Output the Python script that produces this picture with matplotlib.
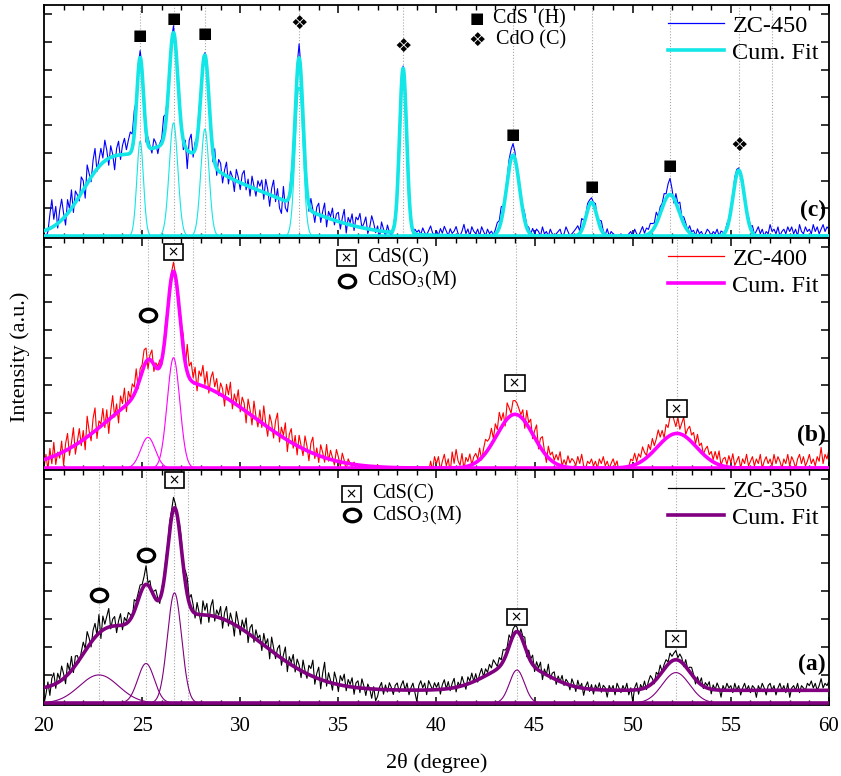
import numpy as np
import matplotlib as mpl
mpl.use("Agg")
import matplotlib.pyplot as plt
from matplotlib.lines import Line2D
from matplotlib.markers import MarkerStyle
from matplotlib.transforms import Affine2D
from matplotlib.ticker import MultipleLocator

# ── scan grid (measured points every 0.1 deg) and fine grid for fits ──
TWO_THETA = np.linspace(20, 60, 401)
FINE = np.linspace(20, 60, 2001)

# ── ZC-450 (panel c): visible peaks, hidden background, raw residual ──
C_PEAK_POS = [24.9, 26.6, 28.2, 33.0, 38.3, 43.9, 47.9, 51.9, 55.4]
C_PEAK_HT = [41.0, 49.0, 46.4, 64.5, 71.5, 35.0, 14.6, 18.0, 28.5]
C_PEAK_W = [0.17, 0.22, 0.21, 0.20, 0.18, 0.33, 0.27, 0.45, 0.29]
C_BG_POS = [23.0, 26.0, 29.0]
C_BG_HT = [20.0, 22.0, 22.0]
C_BG_W = [1.2, 1.8, 3.8]
C_OFFSET = 0.0
C_RES = [
    -2, -3, -1, 6, 12, 3, 8, -2, 5, 9,
    2, -4, 6, 1, 8, -3, 5, 2, -2, 7,
    4, -5, 8, 3, -2, 6, 10, -1, 3, 7,
    2, 9, 4, -3, 5, 1, -6, 3, 6, -2,
    4, 7, 2, 6, 9, 6, 10, 2, 3, 3,
    2, -3, -5, 3, 1, -2, 4, 2, -3, 1,
    2, 9, 4, 3, 2, 2, 3, -2, 1, -3,
    2, -4, 3, -8, 5, 8, -2, 3, 1, 4,
    2, 3, 1, 2, -1, 3, -5, 6, -3, 5,
    4, -4, 2, 6, -3, 3, 1, -5, 5, 2,
    -3, 4, 6, -2, 3, -4, 5, 1, -3, 4,
    2, 5, -3, 6, 2, -5, 3, 7, -2, 4,
    -4, -6, 6, -3, -5, 1, 4, 2, 3, 4,
    6, 3, -2, 4, 2, -3, 5, 1, -4, 3,
    5, -3, 2, 6, -4, 3, 1, 5, -2, 3,
    4, -3, 2, 6, -4, 3, 1, 5, -2, 4,
    3, 6, 0, 2, 5, -2, 1, 6, 3, -1,
    2, -3, 4, 1, -2, 3, 0, -2, 1, 2,
    0, 2, 3, 1, -3, -2, 0, 1, -1, 2,
    1, 2, 0, 3, 1, 0, 2, 4, 1, 0,
    2, 0, 3, 1, 4, 2, 0, 3, 1, 2,
    4, 1, 0, 2, 5, 1, 3, 0, 4, 2,
    1, 3, 0, 4, 2, 0, 3, 1, 2, 0,
    2, 4, 3, 6, 2, 1, 2, 4, 4, 5,
    3, -2, 2, -1, 2, 3, 1, 2, 0, 3,
    1, 3, 2, 0, 4, 1, 2, 0, 3, 1,
    0, 1, 2, 3, 0, 1, 4, 2, 0, 1,
    2, 3, 4, 1, 5, 2, 1, 3, 2, 2,
    1, 3, -1, 2, 4, 1, 0, 3, 0, 2,
    1, 0, 0, 0, 1, 0, 0, 0, 1, 2,
    0, 3, 1, 0, 2, 4, 1, 3, 2, 4,
    3, 2, 5, 1, 3, 2, 4, 2, 5, 7,
    3, -2, 4, 2, 5, 1, 3, 2, 0, 3,
    1, 2, 0, 3, 1, 2, 0, 1, 3, 2,
    0, 2, 1, 3, 0, 2, 1, 0, 2, 1,
    2, 1, 3, 2, 1, -1, 2, 1, 0, 2,
    1, 3, 0, 2, 4, 1, 3, 0, 2, 1,
    5, 2, 3, 1, 4, 0, 2, 3, 1, 4,
    2, 4, 1, 3, 0, 5, 2, 1, 4, 2,
    3, 1, 5, 2, 4, 1, 3, 5, 2, 4,
    3,
]
C_GUIDES = [24.9, 26.6, 28.2, 33.0, 38.3, 43.9, 47.9, 51.9, 55.4, 57.1]
C_SQUARES = [(24.9, 86.7), (26.6, 94.3), (28.2, 87.6),
             (43.9, 43.9), (47.9, 21.3), (51.9, 30.6)]
C_DIAMONDS = [(33.0, 92.1), (38.3, 82.1), (55.4, 39.2)]

# ── ZC-400 (panel b) ──
B_PEAK_POS = [25.3, 26.6, 44.0, 52.25]
B_PEAK_HT = [13.4, 48.0, 23.4, 15.1]
B_PEAK_W = [0.37, 0.32, 0.94, 1.0]
B_BG_POS = [25.5, 29.0]
B_BG_HT = [24.0, 21.0]
B_BG_W = [2.8, 3.0]
B_OFFSET = 0.0
B_RES = [
    -4, 2, -5, 4, -3, 6, -4, 1, -2, 5,
    -6, 3, 7, -3, 2, 8, -4, 1, 6, -2,
    4, -5, 9, 2, -3, 6, 10, -4, 3, 1,
    7, -2, 5, -6, 3, 9, -1, 4, -5, 6,
    2, 8, -3, 5, 1, 6, 3, 9, -2, 4,
    3, 7, 6, -4, 2, 5, -3, 2, 1, 3,
    -2, 2, 4, 1, 3, 2, 4, 1, -2, 2,
    3, 6, -2, 12, 5, 8, 2, 7, -3, 6,
    4, 9, 1, 7, -2, 5, 8, 2, 6, -1,
    5, 3, -4, 6, 2, 8, -3, 4, 1, 7,
    -2, 5, 3, -5, 6, 2, -4, 7, 1, -3,
    5, -2, 8, 1, -4, 6, 3, -3, 5, 9,
    -3, 4, 1, 7, -5, 3, 6, -2, 4, -4,
    5, 1, -3, 6, 2, -4, 4, 7, -2, 3,
    -3, 5, 2, -2, 6, -1, 4, 1, -2, 5,
    2, -2, 4, 1, -3, 2, 0, -1, 1, -1,
    -2, -2, -2, -2, -2, -2, -2, -2, -2, -2,
    1, -2, -2, -2, -2, -2, -2, -2, -2, -2,
    -2, -2, -2, -2, -2, -2, -2, -2, -2, -2,
    -2, -2, -2, -2, -2, -2, -2, 3, -1, 5,
    2, 5, -1, 3, 6, 1, 4, -2, 7, 2,
    8, 3, 1, 6, -1, 4, 2, 5, 0, 3,
    4, 1, 5, -1, 3, 6, 4, 4, 7, 1,
    6, 2, 8, 3, 5, -2, 7, 4, 1, 6,
    6, 5, 3, 1, 4, -3, 6, 2, 5, -2,
    3, 7, -2, 4, 6, 1, -3, 5, 2, 4,
    1, 4, 2, 6, 0, 3, 1, 5, 2, 4,
    3, 1, 5, 2, 6, 1, 0, 3, 2, 4,
    1, 3, 0, 4, 2, 5, 1, 3, 0, 2,
    4, 1, 3, -2, -2, -2, -2, -2, 0, 3,
    2, 5, 1, 4, 2, 6, 3, 1, 5, 2,
    6, 2, 4, 7, 3, 5, 1, 6, 4, 8,
    10, 6, 3, 7, 2, 5, 8, 1, 4, 6,
    3, 5, 1, 6, 2, 4, 0, 3, 5, 2,
    4, 1, 5, 2, 6, 0, 3, 4, 1, 5,
    2, 6, 1, 3, 5, 0, 4, 2, 6, 1,
    3, 5, 1, 4, 2, 6, 0, 3, 5, 2,
    4, 1, 6, 2, 5, 3, 0, 4, 2, 6,
    1, 5, 3, 0, 4, 6, 2, 5, 1, 3,
    6, 2, 4, 1, 5, 3, 9, 2, 6, 4,
    8,
]
B_GUIDES = [25.3, 26.6, 27.6, 44.05, 52.25]
B_BOXES = [(26.6, 93.8), (44.0, 36.9), (52.25, 25.9)]
B_CIRCLES = [(25.3, 66.4)]

# ── ZC-350 (panel a) ──
A_PEAK_POS = [22.8, 25.2, 26.65, 44.1, 52.2]
A_PEAK_HT = [12.1, 17.0, 47.3, 14.2, 13.1]
A_PEAK_W = [1.0, 0.42, 0.36, 0.38, 0.7]
A_BG_POS = [24.3, 28.2, 44.1]
A_BG_HT = [10.0, 32.0, 11.0]
A_BG_W = [1.5, 3.0, 1.5]
A_OFFSET = 5.5
A_RES = [
    -7, -3, 2, -4, 3, 5, -2, 4, 1, 6,
    2, -3, 5, 1, 6, -2, 4, 3, -1, 2,
    5, 1, 7, 3, -2, 4, 6, 0, 8, -3,
    6, 2, 5, 8, -1, 3, 4, -3, 2, 5,
    -2, 3, 1, 4, 2, -1, 5, 2, 3, 4,
    2, 4, 8, 1, 3, -1, 2, 4, 1, -2,
    2, 1, 3, 2, 4, 3, 5, 2, -1, 3,
    4, -3, 5, 7, 2, 6, 3, -2, 5, 1,
    -4, 6, 2, 5, -3, 4, 7, -2, 3, 1,
    5, -4, 3, 6, -2, 4, 1, -5, 6, 2,
    -3, 4, 1, 6, -4, 3, 5, -2, 4, 1,
    3, -3, 5, 1, 4, -4, 6, 2, -2, 3,
    5, -3, 2, 6, -4, 3, 1, 5, -2, 4,
    2, -3, 5, 1, -2, 4, 3, 7, -3, 2,
    5, -4, 3, 8, -2, 4, 1, -3, 5, 2,
    -3, 4, 2, 5, -2, 3, 1, 4, -3, 2,
    3, -2, 4, 1, -3, 2, 0, -4, 1, -5,
    -3, 1, 3, -2, 2, -1, 3, 1, -2, 2,
    3, -1, 2, 4, 0, 3, -2, 1, 3, -1,
    -5, 2, 4, 1, 3, -2, 4, 2, 0, 3,
    1, 3, -2, 2, 4, 0, 3, -1, 2, 4,
    -2, 2, 0, 4, 1, -2, 3, 1, 4, 0,
    3, -1, 2, 4, 0, 3, 1, 4, 2, 5,
    3, 1, 4, 2, 5, 3, 2, 5, 1, 3,
    3, 2, -1, 3, 2, 4, -2, 3, 1, 4,
    -2, 3, 1, 4, -3, 2, 0, 5, -1, 2,
    3, -2, 2, 0, 3, -1, 2, 1, -2, 3,
    1, -2, 3, 0, 2, -3, 1, 3, -1, 2,
    -2, 2, 0, 3, -1, 2, 1, -3, 2, 0,
    2, -2, 3, 1, -1, 2, 0, 3, -2, 1,
    -5, 1, 3, -2, 2, 0, 3, -1, 2, 4,
    2, -1, 3, 1, 4, 0, 2, 3, 1, 4,
    2, 3, 4, 1, 3, 2, -1, 3, 0, 2,
    3, 1, -2, 2, 0, 3, -1, 2, 1, 3,
    -2, 2, 0, 3, 1, -3, 2, 0, 3, 1,
    2, -1, 3, 0, 2, -2, 1, 3, 0, 2,
    -1, 2, 1, -3, 2, 0, 3, 1, -2, 2,
    3, 0, 2, -2, 1, 3, 0, 2, -1, 3,
    -3, 1, 2, 0, 3, -1, 2, 1, 0, 3,
    2, 4, 1, 3, 0, 2, 5, 1, 3, 2,
    4,
]
A_GUIDES = [22.8, 25.2, 26.65, 27.35, 44.1, 52.2]
A_BOXES = [(26.65, 95.7), (44.1, 37.0), (52.2, 27.4)]
A_CIRCLES = [(22.8, 46.2), (25.2, 63.4)]

plt.rcParams.update({
    "font.family": ["Liberation Serif", "DejaVu Sans"],
    "mathtext.fontset": "stix",
    "axes.linewidth": 1.3,
    "xtick.direction": "in", "ytick.direction": "in",
    "xtick.top": True, "ytick.right": True,
})

SYM = ["DejaVu Sans"]
RING = MarkerStyle("o", transform=Affine2D().scale(1.3, 1.0))


def gauss(x, pos, ht, w):
    return [h * np.exp(-(x - p) ** 2 / (2 * s ** 2)) for p, h, s in zip(pos, ht, w)]


def symbol(ax, kind, x, y):
    if kind == "sq":
        ax.text(x, y, "\u25a0", family=SYM, fontsize=11, ha="center", va="center")
    elif kind == "dia":
        ax.text(x, y, "\u2756", family=SYM, fontsize=14, ha="center", va="center")
    elif kind == "box":
        ax.text(x, y, "\u2009\u00d7\u2009", family=SYM, fontsize=10, ha="center",
                va="center",
                bbox=dict(boxstyle="square,pad=0.08", fc="white", ec="black", lw=1.2))
    else:
        ax.plot([x], [y], marker=RING, ms=9, mfc="white", mec="black", mew=2.4,
                ls="none", zorder=6)


def panel(ax, res, pk, bg, offset, raw_c, fit_c, name, guides, label, label_y):
    comps = gauss(FINE, *pk)
    cum = offset + np.sum(comps, axis=0) + np.sum(gauss(FINE, *bg), axis=0)
    raw_fit = offset + np.sum(gauss(TWO_THETA, *pk), axis=0) \
        + np.sum(gauss(TWO_THETA, *bg), axis=0)
    raw = raw_fit + np.array(res, dtype=float)

    for g in guides:
        ax.axvline(g, color="#a8a8a8", ls=":", lw=0.8, zorder=1)
    ax.plot(TWO_THETA, raw, color=raw_c, lw=0.8, zorder=2)
    for c in comps:
        ax.plot(FINE, c, color=fit_c, lw=0.8, zorder=3)
    ax.axhline(0, color=fit_c, lw=2.6, zorder=3)
    ax.plot(FINE, cum, color=fit_c, lw=2.6, zorder=4)

    ax.set_xlim(20, 60)
    ax.set_ylim(-0.8, 100)
    ax.xaxis.set_major_locator(MultipleLocator(5))
    ax.xaxis.set_minor_locator(MultipleLocator(1))
    ax.yaxis.set_major_locator(MultipleLocator(12))
    ax.tick_params(which="major", length=6, width=1.1, labelsize=15, pad=9)
    ax.tick_params(which="minor", length=3.5, width=1.0)
    ax.tick_params(axis="y", labelleft=False)

    handles = [Line2D([], [], color=raw_c, lw=0.9),
               Line2D([], [], color=fit_c, lw=2.6)]
    ax.legend(handles, [name, "Cum. Fit"], loc="upper right",
              bbox_to_anchor=(1.006, 1.02), frameon=False, fontsize=17.5,
              handlelength=2.3, handletextpad=0.35, labelspacing=0.2,
              borderpad=0.1)
    ax.text(59.85, label_y, label, fontsize=17, fontweight="bold",
            ha="right", va="center")


fig = plt.figure(figsize=(8.41, 7.76), dpi=100)
ax_c = fig.add_axes([0.0523, 0.6933, 0.9334, 0.3003])
ax_b = fig.add_axes([0.0523, 0.3943, 0.9334, 0.2990])
ax_a = fig.add_axes([0.0523, 0.0915, 0.9334, 0.3028])

panel(ax_c, C_RES, (C_PEAK_POS, C_PEAK_HT, C_PEAK_W), (C_BG_POS, C_BG_HT, C_BG_W),
      C_OFFSET, "#0000ff", "#12e6e6", "ZC-450", C_GUIDES, "(c)", 11.3)
panel(ax_b, B_RES, (B_PEAK_POS, B_PEAK_HT, B_PEAK_W), (B_BG_POS, B_BG_HT, B_BG_W),
      B_OFFSET, "#ff0000", "#ff00ff", "ZC-400", B_GUIDES, "(b)", 14.4)
panel(ax_a, A_RES, (A_PEAK_POS, A_PEAK_HT, A_PEAK_W), (A_BG_POS, A_BG_HT, A_BG_W),
      A_OFFSET, "#000000", "#800080", "ZC-350", A_GUIDES, "(a)", 16.7)

ax_c.tick_params(axis="x", labelbottom=False)
ax_b.tick_params(axis="x", labelbottom=False)

# phase markers
for x, y in C_SQUARES:
    symbol(ax_c, "sq", x, y)
for x, y in C_DIAMONDS:
    symbol(ax_c, "dia", x, y)
for ax, boxes, circles in [(ax_b, B_BOXES, B_CIRCLES), (ax_a, A_BOXES, A_CIRCLES)]:
    for x, y in boxes:
        symbol(ax, "box", x, y)
    for x, y in circles:
        symbol(ax, "circ", x, y)

# phase keys
symbol(ax_c, "sq", 42.06, 94.0)
ax_c.text(42.9, 94.0, "CdS  (H)", fontsize=14.5, va="center")
symbol(ax_c, "dia", 42.06, 84.7)
ax_c.text(43.05, 84.7, "CdO (C)", fontsize=14.5, va="center")
for ax, y1, y2, xs in [(ax_b, 91.3, 81.5, 35.42), (ax_a, 89.6, 80.5, 35.68)]:
    symbol(ax, "box", xs, y1)
    ax.text(xs + 1.05, y1, "CdS(C)", fontsize=14.5, va="center")
    symbol(ax, "circ", xs, y2)
    ax.text(xs + 1.05, y2, "CdSO$_3$(M)", fontsize=14.5, va="center")

fig.text(0.024, 0.54, "Intensity (a.u.)", rotation=90, fontsize=16,
         ha="center", va="center")
ax_a.set_xlabel("2\u03b8 (degree)", fontsize=16, labelpad=12)

fig.savefig("out.png", dpi=100)
